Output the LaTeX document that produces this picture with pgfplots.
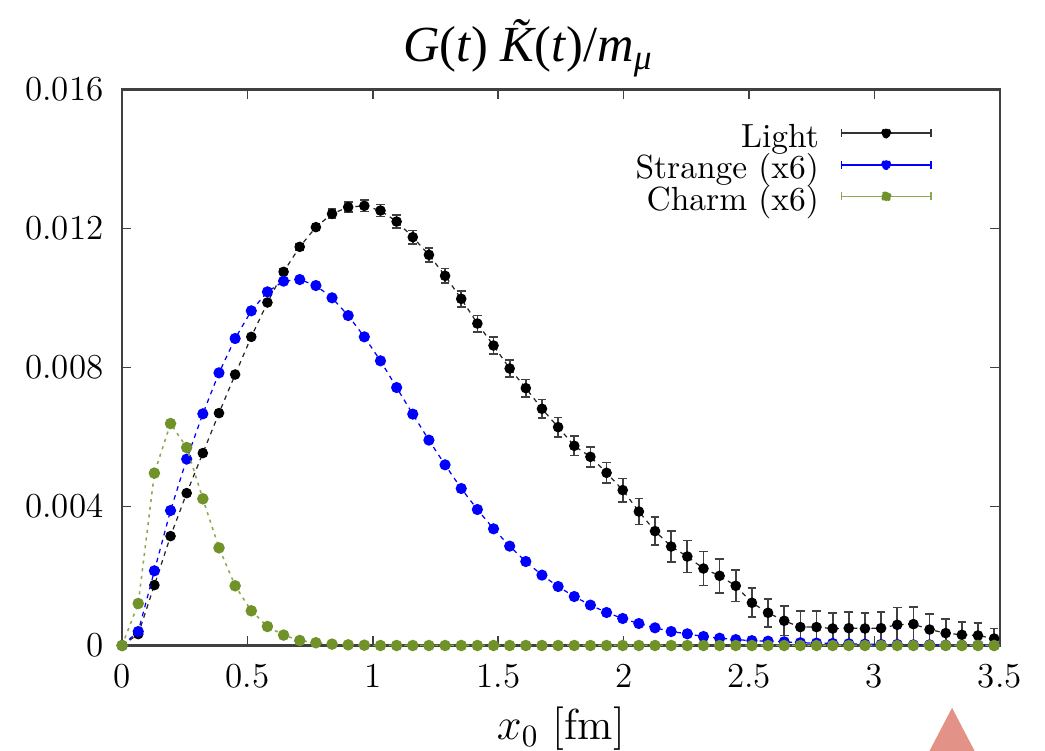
\documentclass[border=0pt]{standalone}
\usepackage{fontspec}
\usepackage{pgfplots}
\usepackage{pgfplotstable}
\pgfplotsset{compat=1.18}
\newfontfamily\tnr{Liberation Serif}
\definecolor{olive2}{RGB}{112,146,40}
\definecolor{salmon2}{RGB}{226,146,134}

\pgfplotstableread{
x L Le S C
0 0 0 0 0
0.0644 0.000328 0.00002 0.000403 0.001209
0.1288 0.001738 0.00002 0.00215 0.004961
0.1932 0.003148 0.00003 0.003885 0.006388
0.2576 0.004386 0.00003 0.005364 0.005698
0.3220 0.005537 0.00004 0.006668 0.004222
0.3864 0.006688 0.00004 0.007847 0.002811
0.4508 0.007799 0.00005 0.008835 0.001718
0.5152 0.008883 0.00005 0.009632 0.000999
0.5796 0.009871 0.00006 0.010178 0.000547
0.6440 0.010754 0.00008 0.010486 0.0003
0.7084 0.011473 0.00009 0.010532 0.000144
0.7728 0.01204 0.0001 0.01036 0.00008
0.8372 0.012423 0.00013 0.010006 0.00004
0.9016 0.012616 0.00014 0.009496 0.00002
0.9660 0.012653 0.00016 0.008883 0.00001
1.0304 0.012518 0.00017 0.008193 0
1.0948 0.012201 0.00019 0.007424 0
1.1592 0.011752 0.00019 0.006659 0
1.2236 0.011243 0.0002 0.005911 0
1.2880 0.010639 0.00021 0.0052 0
1.3524 0.009977 0.000225 0.004518 0
1.4168 0.009266 0.000235 0.003914 0
1.4812 0.008633 0.000245 0.003358 0
1.5456 0.007971 0.00025 0.00286 0
1.6100 0.007407 0.00025 0.002417 0
1.6744 0.006812 0.00027 0.002026 0
1.7388 0.006285 0.000275 0.001698 0
1.8032 0.005747 0.00028 0.00141 0
1.8676 0.00543 0.00029 0.001163 0
1.9320 0.00497 0.0003 0.00095 0
1.9964 0.004472 0.000335 0.000777 0
2.0608 0.003856 0.000374 0.000633 0
2.1252 0.003292 0.000398 0.000509 0
2.1896 0.002849 0.00044 0.000403 0
2.2540 0.002561 0.00046 0.000337 0
2.3184 0.002216 0.00049 0.000259 0
2.3828 0.002006 0.00049 0.00021 0
2.4472 0.001718 0.000455 0.00017 0
2.5116 0.00123 0.000417 0.00014 0
2.5760 0.000941 0.0004 0.000125 0
2.6404 0.000711 0.00042 0.000106 0
2.7048 0.00053 0.000455 0.00008 0
2.7692 0.00053 0.000455 0.00007 0
2.8336 0.000489 0.000455 0.00006 0
2.8980 0.000499 0.00047 0.00005 0
2.9624 0.000489 0.00045 0.00004 0
3.0268 0.000499 0.000465 0.00003 0
3.0912 0.000596 0.0005 0.00003 0
3.1556 0.000616 0.0005 0.00002 0
3.2200 0.00046 0.00045 0.00002 0
3.2844 0.000357 0.00041 0.00001 0
3.3488 0.000308 0.00037 0.00001 0
3.4132 0.000288 0.00036 0.00001 0
3.4776 0.0002 0.00029 0.00001 0
}\datatab

\newcommand{\legimg}[2]{%
  \draw[#1, solid, line width=0.5pt] (0pt,2pt) -- (29pt,2pt);
  \draw[#1, solid, line width=0.5pt] (0pt,0.7pt) -- (0pt,3.3pt);
  \draw[#1, solid, line width=0.5pt] (29pt,0.7pt) -- (29pt,3.3pt);
  \fill[#2] (14.5pt,2pt) circle (1.5pt);
}

\begin{document}
\begin{tikzpicture}
\path[use as bounding box] (-39.4pt,-34.0pt) rectangle (297.8pt,208.3pt);
\fill[salmon2] (267.8pt,-20.1pt) -- (257.4pt,-40pt) -- (278.2pt,-40pt) -- cycle;
\node[anchor=base, inner sep=0pt, font=\fontsize{16.3}{19}\selectfont\tnr] at (131pt,188.5pt)
  {\itshape G\/\upshape(\itshape t\/\upshape)\ \itshape\~{K}\upshape(\itshape t\/\upshape)/\itshape m\textsubscript{μ}};
\begin{axis}[
  scale only axis, width=283.2pt, height=179.4pt,
  xmin=0, xmax=3.5, ymin=0, ymax=0.016,
  xtick={0,0.5,1,1.5,2,2.5,3,3.5},
  xticklabels={0,0.5,1,1.5,2,2.5,3,3.5},
  ytick={0,0.004,0.008,0.012,0.016},
  yticklabels={0,0.004,0.008,0.012,0.016},
  scaled y ticks=false,
  tick align=inside, major tick length=3pt,
  tick style={black!75, line width=0.5pt},
  axis line style={black!75, line width=0.8pt},
  tick label style={font=\fontsize{11.3}{13}\selectfont},
  xticklabel style={yshift=-2.6pt},
  yticklabel style={xshift=-2.5pt},
  xlabel={$x_0$ [fm]},
  xlabel style={font=\fontsize{14}{16}\selectfont, at={(axis description cs:0.5,0)}, anchor=base, yshift=-30.4pt},
  clip mode=individual,
  legend plot pos=right,
  legend cell align=right,
  legend style={at={(rel axis cs:0.934,0.951)}, anchor=north east, draw=none, fill=none,
    font=\fontsize{10.8}{12}\selectfont, row sep=0pt, column sep=7pt,
    nodes={inner sep=0pt, text height=7.6pt, text depth=2.6pt}},
]
\addplot[black!85, line width=0.4pt, dash pattern=on 1.5pt off 1.5pt,
  mark=*, mark size=1.5pt, mark options={solid, fill=black, draw=black},
  legend image code/.code={\legimg{black!80}{black}},
  error bars/.cd, y dir=both, y explicit,
  error bar style={black!75, line width=0.55pt, solid},
  error mark options={rotate=90, mark size=1.4pt, black!75, line width=0.55pt, solid}]
  table[x=x, y=L, y error=Le] {\datatab};
\addlegendentry{Light}
\addplot[blue, line width=0.4pt, dash pattern=on 1.5pt off 1.5pt,
  mark=*, mark size=1.6pt, mark options={solid, fill=blue, draw=blue},
  legend image code/.code={\legimg{blue}{blue}}]
  table[x=x, y=S] {\datatab};
\addlegendentry{Strange (x6)}
\addplot[olive2!80, line width=0.5pt, dash pattern=on 1pt off 1.5pt,
  mark=*, mark size=1.6pt, mark options={solid, fill=olive2, draw=olive2},
  legend image code/.code={\legimg{olive2!80}{olive2}}]
  table[x=x, y=C] {\datatab};
\addlegendentry{Charm (x6)}
\end{axis}
\end{tikzpicture}
\end{document}
